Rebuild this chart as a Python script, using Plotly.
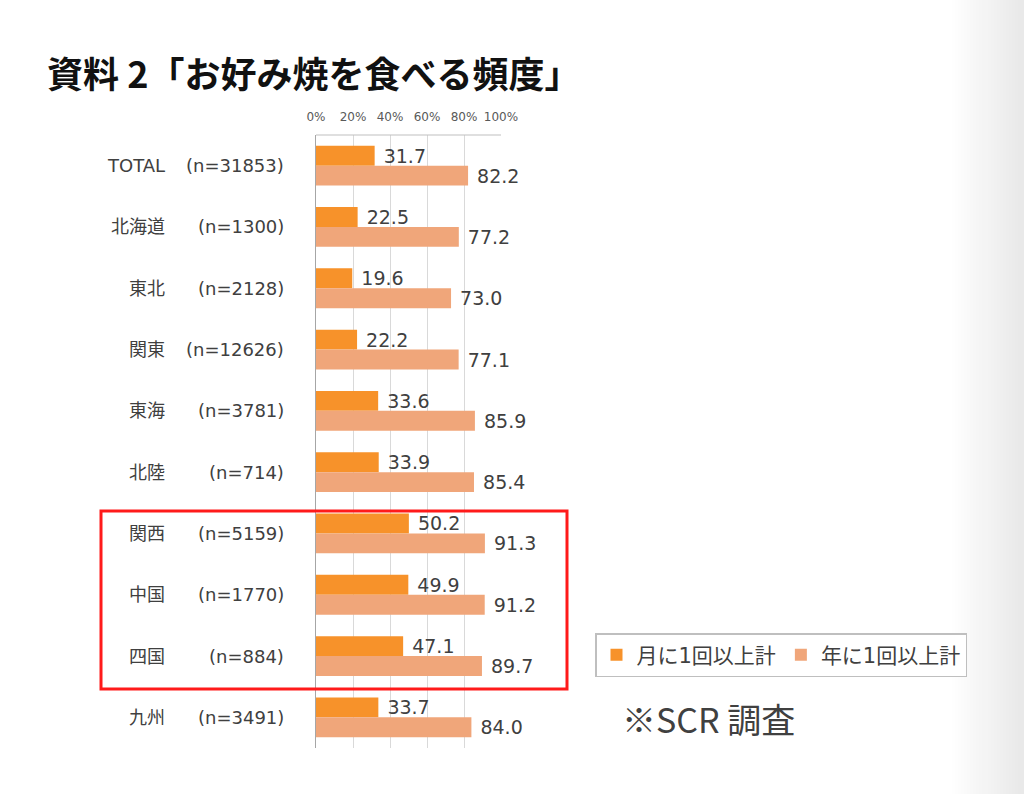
import plotly.graph_objects as go

regions = ["TOTAL", "北海道", "東北", "関東", "東海", "北陸", "関西", "中国", "四国", "九州"]
sample_n = ["(n=31853)", "(n=1300)", "(n=2128)", "(n=12626)", "(n=3781)", "(n=714)",
            "(n=5159)", "(n=1770)", "(n=884)", "(n=3491)"]
monthly = [31.7, 22.5, 19.6, 22.2, 33.6, 33.9, 50.2, 49.9, 47.1, 33.7]
yearly = [82.2, 77.2, 73.0, 77.1, 85.9, 85.4, 91.3, 91.2, 89.7, 84.0]
series_names = ["月に1回以上計", "年に1回以上計"]
tick_vals = [0, 20, 40, 60, 80, 100]
tick_text = ["0%", "20%", "40%", "60%", "80%", "100%"]

W, H = 1024, 794
L, R, T, B = 316, 501, 135, 748


def px(p):
    return (p - L) / (R - L)


def py(p):
    return (B - p) / (B - T)


LATIN = "DejaVu Sans, Noto Sans CJK JP, sans-serif"
TXT = "#404040"

fig = go.Figure()
fig.add_trace(go.Bar(
    y=regions, x=monthly, orientation="h", name=series_names[0],
    marker=dict(color="#F7922A", line=dict(width=0)),
    text=[" %.1f" % v for v in monthly], textposition="outside",
    textfont=dict(family=LATIN, size=19, color=TXT), cliponaxis=False,
    constraintext="none",
))
fig.add_trace(go.Bar(
    y=regions, x=yearly, orientation="h", name=series_names[1],
    marker=dict(color="#F0A67A", line=dict(width=0)),
    text=[" %.1f" % v for v in yearly], textposition="outside",
    textfont=dict(family=LATIN, size=19, color=TXT), cliponaxis=False,
    constraintext="none",
))

annotations = []
for r, n in zip(regions, sample_n):
    annotations.append(dict(x=px(167), xref="paper", y=r, yref="y", text=r,
                            showarrow=False, xanchor="right",
                            font=dict(family=LATIN, size=18, color=TXT)))
    annotations.append(dict(x=px(286), xref="paper", y=r, yref="y", text=n,
                            showarrow=False, xanchor="right",
                            font=dict(family=LATIN, size=18, color=TXT)))

annotations.append(dict(x=px(45), xref="paper", y=py(72), yref="paper",
                        text="<b>資料 2「お好み焼を食べる頻度」</b>", showarrow=False,
                        xanchor="left", yanchor="middle",
                        font=dict(family="Noto Sans CJK JP", size=36, color="#111111")))
annotations.append(dict(x=px(620), xref="paper", y=py(718), yref="paper",
                        text="※SCR 調査", showarrow=False,
                        xanchor="left", yanchor="middle",
                        font=dict(family="Noto Sans CJK JP, DejaVu Sans", size=34, color=TXT)))

shapes = []
# right edge shading of the slide
steps = 24
for i in range(steps):
    x0 = 952 + i * (72 / steps)
    g = int(255 - (i + 1) * (22 / steps))
    shapes.append(dict(type="rect", xref="paper", yref="paper",
                       x0=px(x0), x1=px(1030), y0=py(-5), y1=py(800),
                       fillcolor="rgb(%d,%d,%d)" % (g, g, g), line=dict(width=0),
                       layer="below", opacity=1))
# top axis line of the plot area
shapes.append(dict(type="line", xref="x", yref="paper", x0=0, x1=100, y0=1, y1=1,
                   line=dict(color="#BFBFBF", width=1)))
# red highlight box
shapes.append(dict(type="rect", xref="paper", yref="paper",
                   x0=px(101), x1=px(567), y0=py(511), y1=py(689),
                   line=dict(color="#FF1A1A", width=3), fillcolor="rgba(0,0,0,0)"))

fig.update_layout(
    width=W, height=H,
    margin=dict(l=L, r=W - R, t=T, b=H - B, pad=0, autoexpand=False),
    paper_bgcolor="white", plot_bgcolor="white",
    barmode="group", bargap=0.35, bargroupgap=0,
    showlegend=True,
    legend=dict(orientation="h", x=px(595), y=py(633), xanchor="left", yanchor="top",
                bordercolor="#BFBFBF", borderwidth=1.5, bgcolor="white",
                font=dict(family=LATIN, size=21, color=TXT),
                itemwidth=30, traceorder="normal"),
    xaxis=dict(range=[0, 100], side="top", tickvals=tick_vals, ticktext=tick_text,
               showgrid=True, gridcolor="#D9D9D9", gridwidth=1,
               showline=False, zeroline=False, ticks="", ticklabelstandoff=11,
               tickfont=dict(family=LATIN, size=12, color="#595959"), fixedrange=True),
    yaxis=dict(autorange="reversed", showticklabels=False, ticks="",
               showline=True, linecolor="#A6A6A6", linewidth=1, showgrid=False,
               fixedrange=True),
    annotations=annotations, shapes=shapes,
)

fig.write_html("out.html")
